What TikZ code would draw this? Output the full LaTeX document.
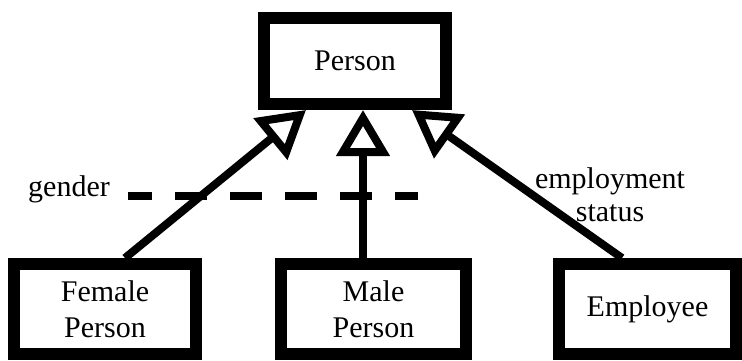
\documentclass[tikz,border=0pt]{standalone}
\usepackage{fontspec}
\setmainfont{Liberation Serif}
\usetikzlibrary{arrows.meta}
\begin{document}
\begin{tikzpicture}[x=1pt,y=-1pt,
  cls/.style={draw=black, line width=12pt, fill=white, inner sep=0pt, align=center,
    font=\fontsize{30}{36}\selectfont},
  lbl/.style={inner sep=0pt, align=center, font=\fontsize{30}{33}\selectfont},
  gen/.style={line width=8pt, -{Triangle[open, length=46pt, width=52pt, line width=8pt]}},
  disc/.style={line width=8pt, dash pattern=on 32pt off 23pt, dash phase=8pt}]
\useasboundingbox (0,0) rectangle (742,360);
\node[cls, minimum width=182pt, minimum height=86pt] (person) at (355,61) {Person};
\node[cls, minimum width=182pt, minimum height=90pt] (female) at (105,309) {Female\\Person};
\node[cls, minimum width=185pt, minimum height=90pt] (male) at (373.5,309) {Male\\Person};
\node[cls, minimum width=177pt, minimum height=90pt] (employee) at (647.5,309) {Employee};
\node[lbl] (gender) at (69,189) {gender};
\node[lbl] (empstatus) at (610,195) {employment\\status};
\coordinate (dA) at (128,196);
\coordinate (dB) at (418,196);
\draw[disc] (dA) -- (dB);
\draw[gen] (female.north -| 125,0) -- (person.south -| 306,0);
\draw[gen] (male.north -| 363,0) -- (person.south -| 363,0);
\draw[gen] (employee.north -| 622,0) -- (person.south -| 412,0);
\end{tikzpicture}
\end{document}
